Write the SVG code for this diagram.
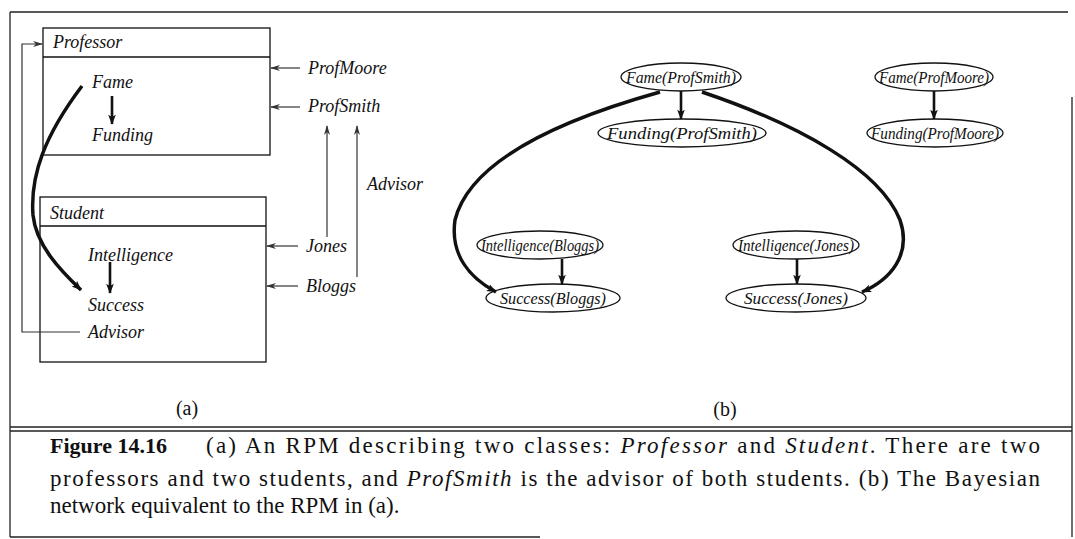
<svg xmlns="http://www.w3.org/2000/svg" width="1075" height="539" viewBox="0 0 1075 539">
<style>
.lbl{font-family:"Liberation Serif",serif;font-style:italic;font-size:18px;fill:#111}
.nl{font-family:"Liberation Serif",serif;font-style:italic;font-size:17px;fill:#111;text-anchor:middle}
.cap{font-family:"Liberation Serif",serif;font-size:23px;fill:#111}
.sub{font-family:"Liberation Serif",serif;font-size:20px;fill:#111;text-anchor:middle}
.box{fill:none;stroke:#111;stroke-width:1.3}
.thin{fill:none;stroke:#333;stroke-width:1.2}
.bold{fill:none;stroke:#111;stroke-width:2.6}
.curve{fill:none;stroke:#111;stroke-width:3.5}
.ell{fill:#fff;stroke:#111;stroke-width:1.3}
.frame{fill:none;stroke:#222;stroke-width:1.3}
</style>
<defs>
<marker id="ah" markerWidth="10" markerHeight="8" refX="9" refY="4" orient="auto" markerUnits="userSpaceOnUse">
<path d="M0,1 L10,4 L0,7 L3,4 z" fill="#333"/>
</marker>
<marker id="bh" markerWidth="10" markerHeight="14" refX="12" refY="5" orient="auto" markerUnits="userSpaceOnUse" viewBox="0 0 13 10">
<path d="M0,0 L13,5 L0,10 L3,5 z" fill="#111"/>
</marker>
</defs>
<rect width="1075" height="539" fill="#fff"/>
<g id="frame">
<path class="frame" d="M10,12 H1068 M10,12 V537 M1072,97 V537 M10,537 H540 M10,427 H1072 M10,431 H1072"/>
</g>
<g id="professor">
<rect class="box" x="43" y="28" width="227" height="127"/>
<line class="box" x1="43" y1="57" x2="270" y2="57"/>
<text class="lbl" x="53" y="48">Professor</text>
<text class="lbl" x="92" y="88">Fame</text>
<text class="lbl" x="92" y="141">Funding</text>
</g>
<g id="student">
<rect class="box" x="40" y="197" width="226" height="165"/>
<line class="box" x1="40" y1="226" x2="266" y2="226"/>
<text class="lbl" x="50" y="219">Student</text>
<text class="lbl" x="88" y="261">Intelligence</text>
<text class="lbl" x="88" y="311">Success</text>
<text class="lbl" x="88" y="338">Advisor</text>
</g>
<g id="instances">
<text class="lbl" x="308" y="74">ProfMoore</text>
<text class="lbl" x="308" y="112">ProfSmith</text>
<text class="lbl" x="306" y="252">Jones</text>
<text class="lbl" x="306" y="292">Bloggs</text>
<text class="lbl" x="367" y="190">Advisor</text>
<text class="sub" x="187" y="415">(a)</text>
</g>
<g id="bn-nodes">
<g id="fame-smith"><ellipse class="ell" cx="681" cy="77" rx="60" ry="14"/><text class="nl" x="681" y="83" textLength="110" lengthAdjust="spacingAndGlyphs">Fame(ProfSmith)</text></g>
<g id="funding-smith"><ellipse class="ell" cx="682" cy="133" rx="84" ry="14"/><text class="nl" x="682" y="139" textLength="150" lengthAdjust="spacingAndGlyphs">Funding(ProfSmith)</text></g>
<g id="fame-moore"><ellipse class="ell" cx="934" cy="77" rx="59" ry="14"/><text class="nl" x="934" y="83" textLength="110" lengthAdjust="spacingAndGlyphs">Fame(ProfMoore)</text></g>
<g id="funding-moore"><ellipse class="ell" cx="935" cy="133" rx="68" ry="14"/><text class="nl" x="935" y="139" textLength="128" lengthAdjust="spacingAndGlyphs">Funding(ProfMoore)</text></g>
<g id="int-bloggs"><ellipse class="ell" cx="540" cy="245" rx="63" ry="14"/><text class="nl" x="540" y="251" textLength="118" lengthAdjust="spacingAndGlyphs">Intelligence(Bloggs)</text></g>
<g id="succ-bloggs"><ellipse class="ell" cx="553" cy="298" rx="67" ry="14"/><text class="nl" x="553" y="304" textLength="106" lengthAdjust="spacingAndGlyphs">Success(Bloggs)</text></g>
<g id="int-jones"><ellipse class="ell" cx="796" cy="245" rx="63" ry="14"/><text class="nl" x="796" y="251" textLength="116" lengthAdjust="spacingAndGlyphs">Intelligence(Jones)</text></g>
<g id="succ-jones"><ellipse class="ell" cx="796" cy="298" rx="70" ry="14"/><text class="nl" x="796" y="304" textLength="104" lengthAdjust="spacingAndGlyphs">Success(Jones)</text></g>
<text class="sub" x="725" y="416">(b)</text>
</g>
<g id="connectors">
<path class="thin" d="M80,332 H22 V44 H42" marker-end="url(#ah)"/>
<path class="thin" d="M300,68 H271" marker-end="url(#ah)"/>
<path class="thin" d="M300,107 H271" marker-end="url(#ah)"/>
<path class="thin" d="M298,246 H267" marker-end="url(#ah)"/>
<path class="thin" d="M298,286 H267" marker-end="url(#ah)"/>
<path class="thin" d="M327,237 V126" marker-end="url(#ah)"/>
<path class="thin" d="M357,277 V126" marker-end="url(#ah)"/>
<path class="bold" d="M112,96 V124" marker-end="url(#bh)"/>
<path class="bold" d="M110,262 V293" marker-end="url(#bh)"/>
<path class="curve" d="M82,86 C45,135 30,175 33,215 C36,245 60,270 81,290" marker-end="url(#bh)"/>
<path class="bold" d="M681,91 V119" marker-end="url(#bh)"/>
<path class="bold" d="M934,91 V119" marker-end="url(#bh)"/>
<path class="bold" d="M562,259 V284" marker-end="url(#bh)"/>
<path class="bold" d="M797,259 V284" marker-end="url(#bh)"/>
<path class="curve" d="M660,92 C560,120 470,160 455,220 C450,255 470,278 496,292" marker-end="url(#bh)"/>
<path class="curve" d="M702,92 C800,125 880,170 900,220 C912,255 890,280 862,292" marker-end="url(#bh)"/>
</g>
<g id="caption">
<text class="cap" x="50" y="453" style="font-weight:bold;font-size:22px">Figure 14.16</text>
<text class="cap" x="206" y="453" textLength="834" lengthAdjust="spacing">(a) An RPM describing two classes: <tspan font-style="italic">Professor</tspan> and <tspan font-style="italic">Student</tspan>. There are two</text>
<text class="cap" x="50" y="486" textLength="990" lengthAdjust="spacing">professors and two students, and <tspan font-style="italic">ProfSmith</tspan> is the advisor of both students. (b) The Bayesian</text>
<text class="cap" x="50" y="513">network equivalent to the RPM in (a).</text>
</g>
</svg>
